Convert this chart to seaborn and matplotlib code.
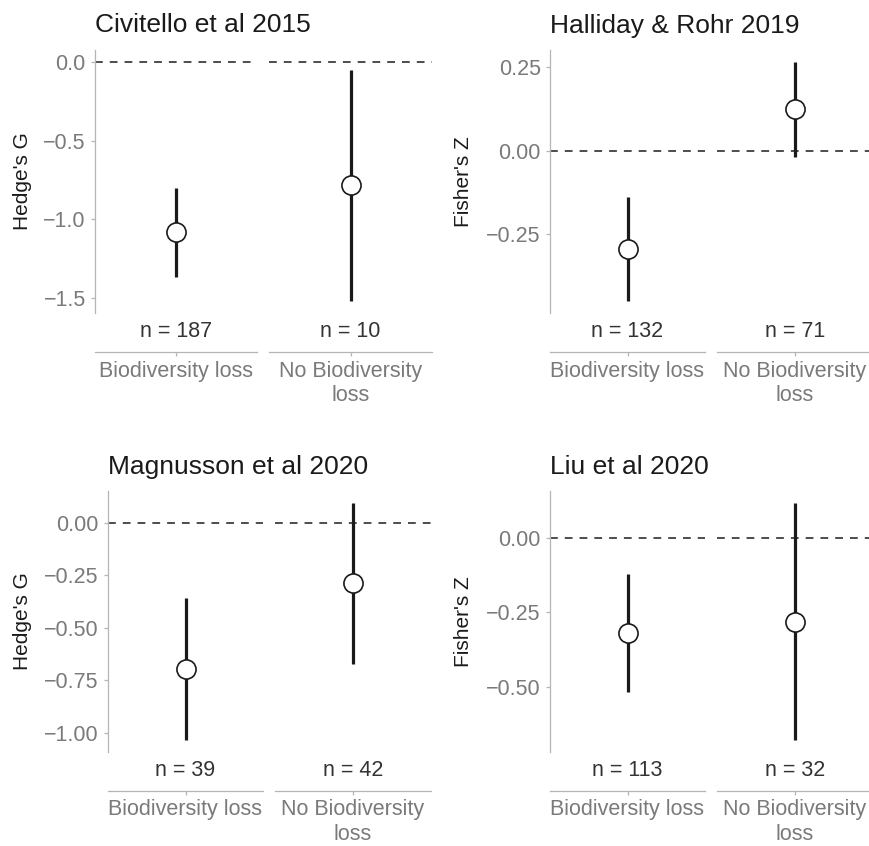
import numpy as np
import pandas as pd
import matplotlib
matplotlib.use("Agg")
import matplotlib.pyplot as plt
import seaborn as sns
from matplotlib.ticker import FixedLocator, FuncFormatter

# Data
groups = ["Biodiversity loss", "No Biodiversity loss"]
group_labels = ["Biodiversity loss", "No Biodiversity\nloss"]

studies = ["Civitello et al 2015", "Halliday & Rohr 2019",
           "Magnusson et al 2020", "Liu et al 2020"]
metrics = ["Hedge's G", "Fisher's Z", "Hedge's G", "Fisher's Z"]

civitello_est = [-1.08, -0.785]
civitello_lo = [-1.37, -1.52]
civitello_hi = [-0.80, -0.05]
civitello_n = [187, 10]

halliday_est = [-0.293, 0.126]
halliday_lo = [-0.449, -0.018]
halliday_hi = [-0.139, 0.265]
halliday_n = [132, 71]

magnusson_est = [-0.695, -0.286]
magnusson_lo = [-1.035, -0.673]
magnusson_hi = [-0.357, 0.094]
magnusson_n = [39, 42]

liu_est = [-0.319, -0.281]
liu_lo = [-0.519, -0.681]
liu_hi = [-0.121, 0.120]
liu_n = [113, 32]

yticks = [
    [0.0, -0.5, -1.0, -1.5],
    [0.25, 0.0, -0.25],
    [0.0, -0.25, -0.5, -0.75, -1.0],
    [0.0, -0.25, -0.5],
]
ydecimals = [1, 2, 2, 2]

est_all = [civitello_est, halliday_est, magnusson_est, liu_est]
lo_all = [civitello_lo, halliday_lo, magnusson_lo, liu_lo]
hi_all = [civitello_hi, halliday_hi, magnusson_hi, liu_hi]
n_all = [civitello_n, halliday_n, magnusson_n, liu_n]

sns.set_theme(style="white")
plt.rcParams["font.family"] = ["Liberation Sans", "DejaVu Sans"]

W, H = 869, 846
fig = plt.figure(figsize=(W / 100, H / 100), dpi=100)

# panel layout in pixels: (left axis x0, x1), (right axis x0, x1), (y top, y bottom), title y, ylabel x
layout = [
    ((95, 257), (269, 432), (50, 313), 32.5, 23),
    ((550, 705), (717, 873), (50, 313), 32.5, 464),
    ((108, 263), (275, 431), (491, 752), 474, 23),
    ((550, 705), (717, 873), (491, 752), 474, 464),
]

tick_grey = "#7a7a7a"
line_grey = "#b5b5b5"


def px_axes(x0, x1, y0, y1):
    return fig.add_axes([x0 / W, 1 - y1 / H, (x1 - x0) / W, (y1 - y0) / H])


for i in range(4):
    (ax0, ax1), (bx0, bx1), (yt, yb), title_y, ylab_x = layout[i]
    df = pd.DataFrame({"group": groups, "est": est_all[i],
                       "lo": lo_all[i], "hi": hi_all[i], "n": n_all[i]})
    lo = min(df["lo"].min(), 0)
    hi = max(df["hi"].max(), 0)
    pad = 0.05 * (hi - lo)

    axes = [px_axes(ax0, ax1, yt, yb), px_axes(bx0, bx1, yt, yb)]
    for j, ax in enumerate(axes):
        row = df.iloc[[j]]
        ax.axhline(0, color="#4d4d4d", lw=1.4, ls=(0, (4, 3.6)), zorder=1)
        sns.scatterplot(data=row, x="group", y="est", ax=ax, s=190,
                        color="white", edgecolor="#1a1a1a", linewidth=1.2,
                        zorder=4, legend=False)
        ax.vlines(row["group"], row["lo"], row["hi"], color="#1a1a1a",
                  lw=2.3, zorder=3)
        ax.set_xlim(-0.5, 0.5)
        ax.set_ylim(lo - pad, hi + pad)
        ax.set_xticks([0])
        ax.set_xticklabels([group_labels[j]], linespacing=0.88)
        ax.set_xlabel("")
        ax.set_ylabel("")
        ax.text(0, -0.07, f"n = {row['n'].iloc[0]}", transform=ax.get_xaxis_transform(),
                ha="center", va="center", fontsize=15.5, color="#333333")

        for s in ["top", "right"]:
            ax.spines[s].set_visible(False)
        ax.spines["bottom"].set_position(("outward", 28))
        ax.spines["bottom"].set_color(line_grey)
        ax.spines["bottom"].set_linewidth(0.9)
        ax.tick_params(axis="x", length=3.2, width=0.9, color=line_grey,
                       labelsize=15.5, labelcolor=tick_grey, pad=3, bottom=True)
        if j == 0:
            dec = ydecimals[i]
            ax.yaxis.set_major_locator(FixedLocator(yticks[i]))
            ax.yaxis.set_major_formatter(FuncFormatter(
                lambda v, p, d=dec: (f"{v:.{d}f}" if abs(v) > 1e-9 else f"{0:.{d}f}").replace("-", "\u2212")))
            ax.spines["left"].set_color(line_grey)
            ax.spines["left"].set_linewidth(0.9)
            ax.tick_params(axis="y", length=3.2, width=0.9, color=line_grey,
                           labelsize=15.5, labelcolor=tick_grey, pad=3.5, left=True)
        else:
            ax.spines["left"].set_visible(False)
            ax.set_yticks([])
        ax.set_facecolor("none")

    fig.text(ax0 / W, 1 - title_y / H, studies[i], ha="left", va="baseline",
             fontsize=19, color="#1a1a1a")
    fig.text(ylab_x / W, 1 - (yt + yb) / 2 / H, metrics[i], rotation=90,
             ha="center", va="center", fontsize=15, color="#1a1a1a")

fig.savefig("out.png", dpi=100, facecolor="white")
